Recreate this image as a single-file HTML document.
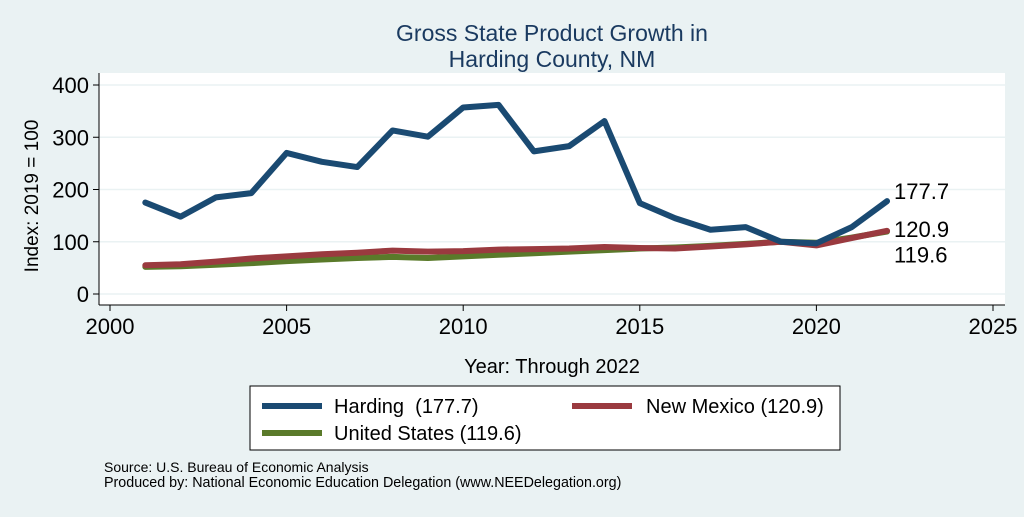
<!DOCTYPE html>
<html><head><meta charset="utf-8"><style>
body{margin:0;background:#eaf2f3;font-family:"Liberation Sans",Arial,sans-serif}
svg text{font-family:"Liberation Sans",Arial,sans-serif}
</style></head><body>
<svg id="c" width="1024" height="512" xmlns="http://www.w3.org/2000/svg">
<rect width="1024" height="512" fill="#eaf2f3"/>
<rect x="99" y="73" width="906" height="232" fill="#fff"/>
<text x="552" y="41" text-anchor="middle" font-size="23" fill="#1a3a60">Gross State Product Growth in</text>
<text x="552" y="67" text-anchor="middle" font-size="23" fill="#1a3a60">Harding County, NM</text>
<text transform="translate(38,196) rotate(-90)" text-anchor="middle" font-size="19" fill="#000">Index: 2019 = 100</text>
<text x="552" y="373" text-anchor="middle" font-size="20" fill="#000">Year: Through 2022</text>
<g id="grid"></g><g id="axes"></g><g id="series"></g>
<rect x="250" y="386" width="590" height="64" fill="#fff" stroke="#000" stroke-width="1"/>
<g><line x1="262" y1="406" x2="322" y2="406" stroke="#1a4a72" stroke-width="6"/><text x="334" y="413" font-size="20">Harding&#160; (177.7)</text></g>
<g><line x1="572" y1="406" x2="632" y2="406" stroke="#9a3a3f" stroke-width="6"/><text x="646" y="413" font-size="20">New Mexico (120.9)</text></g>
<g><line x1="262" y1="433" x2="322" y2="433" stroke="#5a7a2a" stroke-width="6"/><text x="334" y="440" font-size="20">United States (119.6)</text></g>
<text x="104" y="472" font-size="14">Source: U.S. Bureau of Economic Analysis</text>
<text x="104" y="487" font-size="14.3">Produced by: National Economic Education Delegation (www.NEEDelegation.org)</text>
</svg>
<script>
const years=[2001,2002,2003,2004,2005,2006,2007,2008,2009,2010,2011,2012,2013,2014,2015,2016,2017,2018,2019,2020,2021,2022];
const harding=[175,148,185,193,270,253,243,313,301,357,362,273,283,331,174,145,123,128,100,97,128,177.7];
const newMexico=[55,57,62,68,72,76,79,83,81,82,85,86,87,90,88,87,91,95,100,93,107,120.9];
const unitedStates=[52,53,56,59,63,66,69,71,69,72,75,78,81,84,87,89,92,96,100,98,108,119.6];
const xTicks=[2000,2005,2010,2015,2020,2025];
const yTicks=[0,100,200,300,400];
const NS="http://www.w3.org/2000/svg";
const X=v=>110+(v-2000)*(993-110)/25;
const Y=v=>294-v*(294-85)/400;
function mk(t,a,p){const e=document.createElementNS(NS,t);for(const k in a)e.setAttribute(k,a[k]);p.appendChild(e);return e;}
const grid=document.getElementById('grid'),axes=document.getElementById('axes'),ser=document.getElementById('series');
yTicks.forEach(t=>{
 const g=mk('line',{x1:99,x2:1005,y1:Y(t),y2:Y(t),stroke:'#eaf2f3','stroke-width':1.5},grid);
 
 
 const tk=mk('line',{x1:93,x2:99,y1:Y(t),y2:Y(t),stroke:'#000'},axes);
 
 
 const l=mk('text',{x:89,y:Y(t)+8,'text-anchor':'end','font-size':22},axes);l.textContent=t;
 
 
});
xTicks.forEach(t=>{
 const tk=mk('line',{x1:X(t),x2:X(t),y1:305,y2:311,stroke:'#000'},axes);
 
 
 const l=mk('text',{x:X(t),y:334,'text-anchor':'middle','font-size':22},axes);l.textContent=t;
 
 
});
const ya=mk('line',{x1:99,x2:99,y1:73,y2:305,stroke:'#000'},axes);


const xa=mk('line',{x1:99,x2:1005,y1:305,y2:305,stroke:'#000'},axes);


function line(vals,color,name){
 const p=mk('polyline',{points:vals.map((v,i)=>X(years[i])+','+Y(v)).join(' '),fill:'none',stroke:color,'stroke-width':6,'stroke-linejoin':'round','stroke-linecap':'round'},ser);
 
 
}
line(unitedStates,'#5a7a2a','line-united-states');
line(newMexico,'#9a3a3f','line-new-mexico');
line(harding,'#1a4a72','line-harding');
const last=years.length-1;
[[harding[last],Y(harding[last])-2,'label-harding'],[newMexico[last],Y(newMexico[last])+6,'label-new-mexico'],[unitedStates[last],Y(unitedStates[last])+31,'label-united-states']].forEach(([v,y,n])=>{
 const t=mk('text',{x:X(2022)+7,y:y,'font-size':22},ser);t.textContent=v.toFixed(1);
 
 
});
</script>
</body></html>
